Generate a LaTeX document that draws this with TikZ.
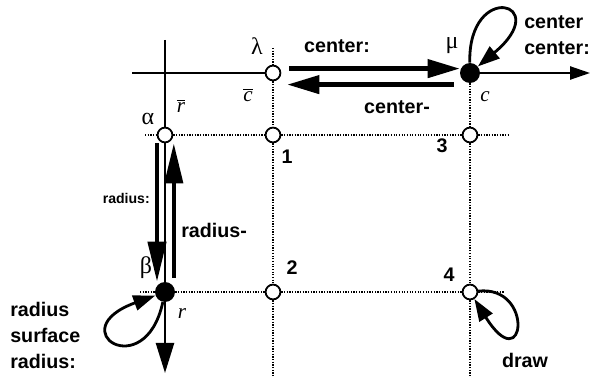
\documentclass[tikz,border=0pt]{standalone}
\usepackage{fontspec}
\setsansfont{Liberation Sans}
\newfontfamily\greekfont{Liberation Serif}
\usetikzlibrary{arrows.meta, positioning}

\begin{document}
\begin{tikzpicture}[
  x=0.25mm, y=-0.25mm,
  opendot/.style={circle, draw, fill=white, line width=1.3pt, inner sep=0pt, minimum size=3.7mm},
  fulldot/.style={circle, fill=black, inner sep=0pt, minimum size=5mm},
  axis/.style={line width=1.7pt},
  gridline/.style={line width=0.9pt, densely dotted},
  fat/.style={line width=3pt, -{Triangle[length=8mm, width=4.5mm]}},
  fatv/.style={line width=3pt, -{Triangle[length=10mm, width=4.5mm]}},
  loopy/.style={line width=2pt, -{Triangle[length=5.5mm, width=3.8mm]}},
  lbl/.style={inner sep=0pt, font=\sffamily\bfseries\fontsize{14}{18.5}\selectfont},
  tiny/.style={inner sep=0pt, font=\sffamily\bfseries\fontsize{10}{12}\selectfont},
  greek/.style={inner sep=0pt, font=\greekfont\fontsize{17}{19}\selectfont},
  var/.style={inner sep=0pt, font=\greekfont\itshape\fontsize{15}{17}\selectfont}
]
  \useasboundingbox (0,0) rectangle (594,376);

  % grid nodes
  \node[opendot] (lam) at (273,73) {};
  \node[fulldot] (mu) at (470,73) {};
  \node[opendot] (alpha) at (165,135) {};
  \node[opendot] (n1) at (273,135) {};
  \node[opendot] (n3) at (470,135) {};
  \node[fulldot] (beta) at (165,292) {};
  \node[opendot] (n2) at (273,292) {};
  \node[opendot] (n4) at (470,292) {};

  % free ends of the lines
  \coordinate (htop) at (132,73);
  \coordinate (hend) at (590,73);
  \coordinate (vtop) at (165,40);
  \coordinate (vend) at (165,373);
  \coordinate (row1a) at (145,135);
  \coordinate (row1b) at (510,135);
  \coordinate (row2a) at (140,292);
  \coordinate (row2b) at (505,292);
  \coordinate (midtop) at (273,48);
  \coordinate (midend) at (273,376);
  \coordinate (rightend) at (470,376);

  % thin grid
  \draw[gridline] (row1a) -- (alpha) -- (n1) -- (n3) -- (row1b);
  \draw[gridline] (row2a) -- (beta) -- (n2) -- (n4) -- (row2b);
  \draw[gridline] (midtop) -- (lam) -- (n1) -- (n2) -- (midend);
  \draw[gridline] (mu) -- (n3) -- (n4) -- (rightend);

  % axes
  \draw[axis] (htop) -- (lam);
  \draw[line width=1.3pt, -{Triangle[length=5mm, width=3.3mm]}] (mu) -- (hend);
  \draw[axis, -{Triangle[length=7.5mm, width=4.5mm]}] (vtop) -- (alpha) -- (beta) -- (vend);

  % transitions
  \draw[fat, shorten <=2mm] ([yshift=1.1mm]lam.east) -- ([yshift=1.1mm]mu.west);
  \draw[fat, shorten <=1.5mm, shorten >=1.5mm] ([yshift=-2.9mm]mu.west) -- ([yshift=-2.9mm]lam.east);
  \draw[fatv] ([xshift=-2mm]alpha.south) -- ([xshift=-2mm]beta.north);
  \draw[fatv, shorten <=1mm] ([xshift=2.2mm]beta.north) -- ([xshift=2.2mm]alpha.south);

  % self loops
  \draw[loopy] (mu) .. controls (468,-20) and (555,2) .. (mu);
  \draw[loopy] (beta) .. controls (145,385) and (60,330) .. (beta);
  \draw[loopy] (n4) .. controls (535,285) and (525,380) .. (n4);

  % names of the points
  \node[greek] (lamname) at (257,46) {λ};
  \node[greek] (muname) at (452,46) {μ};
  \node[greek] (alphaname) at (148,119) {α};
  \node[greek] (betaname) at (146,268) {β};
  \node[var] (cbar) at (248,95) {$\overline{\hbox{c}}$};
  \node[var] (rbar) at (181,106) {$\overline{\hbox{r}}$};
  \node[var] (cname) at (485,97) {c};
  \node[var] (rname) at (182,314) {r};
  \node[lbl] (one) at (287,157) {1};
  \node[lbl] (three) at (442,146) {3};
  \node[lbl] (two) at (292,268) {2};
  \node[lbl] (four) at (449,275) {4};

  % texts of the transitions
  \node[lbl] (centerfwd) at (337,46) {center:};
  \node[lbl] (centerback) at (397,107) {center-};
  \node[lbl, align=left, anchor=north west] (centerloop) at (524,15) {center\\center:};
  \node[lbl, align=left, anchor=north west] (radiusloop) at (10,302) {radius\\surface\\radius:};
  \node[tiny, anchor=east] (radiusdown) at (150,198) {radius:};
  \node[lbl, anchor=west] (radiusup) at (181,230) {radius-};
  \node[lbl] (drawloop) at (525,360) {draw};
\end{tikzpicture}
\end{document}
